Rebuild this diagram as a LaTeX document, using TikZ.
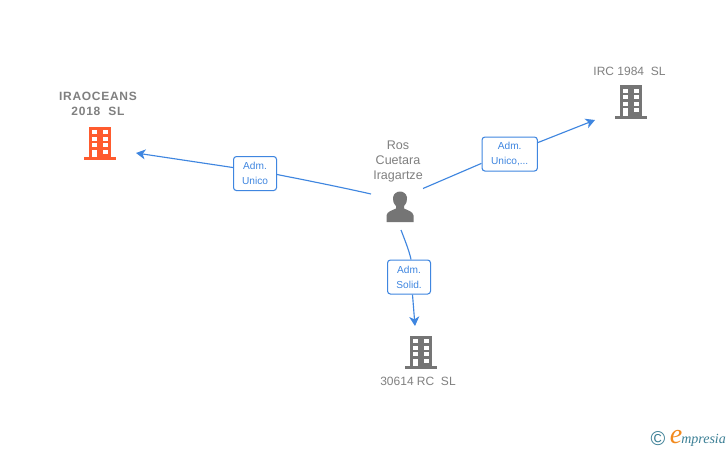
\documentclass[tikz,border=0pt]{standalone}
\usepackage{fontspec}
\setmainfont{Liberation Sans}
\newfontfamily\logofont{Liberation Serif}
\newfontfamily\boldspaced[LetterSpace=6]{Liberation Sans}
\usetikzlibrary{arrows.meta}
\definecolor{linkblue}{HTML}{3F86E0}
\definecolor{icongray}{HTML}{757575}
\definecolor{textgray}{HTML}{808080}
\definecolor{orangeicon}{HTML}{FF5B2E}
\definecolor{logoteal}{HTML}{3B7F95}
\definecolor{logoorange}{HTML}{F28A1E}
\tikzset{
  x=0.75pt,y=-0.75pt,
  entity/.style={text=textgray,font=\fontsize{9}{11.25}\selectfont,align=center,inner sep=0pt},
  boldentity/.style={entity,font=\fontsize{9}{11.25}\boldspaced\bfseries},
  rolebox/.style={draw=linkblue,line width=0.8pt,rounded corners=2.2pt,fill=white,
    text=linkblue,font=\fontsize{7.6}{11.25}\selectfont,align=center,inner sep=0pt,anchor=north west},
  link/.style={draw=linkblue,line width=0.85pt},
  arrowlink/.style={link,-{Stealth[length=7pt,width=7.5pt,inset=2pt]}},
  building/.pic={
    \fill[pic actions] (-11.2,-17) rectangle (11.2,13.5);
    \fill[pic actions] (-15.7,13.5) rectangle (15.7,16.5);
    \fill[white] (-7.6,-13.3) rectangle (-2.6,-9.4);
    \fill[white] (2.6,-13.3) rectangle (7.6,-9.4);
    \fill[white] (-7.6,-6.8) rectangle (-2.6,-2.8);
    \fill[white] (2.6,-6.8) rectangle (7.6,-2.8);
    \fill[white] (-7.6,-0.1) rectangle (-2.6,3.8);
    \fill[white] (2.6,-0.1) rectangle (7.6,3.8);
    \fill[white] (-7.6,6.2) rectangle (-2.6,13.5);
    \fill[white] (2.6,6.2) rectangle (7.6,10.3);
  },
}
\begin{document}
\begin{tikzpicture}
\useasboundingbox (0,0) rectangle (728,450);
\fill[white] (0,0) rectangle (728,450);

% buildings
\path (100,143.5) pic[fill=orangeicon] {building};
\path (631,102) pic[fill=icongray] {building};
\path (421,352.5) pic[fill=icongray] {building};

% person
\fill[icongray] (386.5,222) -- (386.5,215.5) .. controls (387,211.5) and (392,210.5) .. (396,208.5)
  -- (396,206) .. controls (393.5,203.5) and (392.5,200) .. (393,197.5)
  .. controls (393.5,193.5) and (397,191.5) .. (400,191.5)
  .. controls (403,191.5) and (406.5,193.5) .. (407,197.5)
  .. controls (407.5,200) and (406.5,203.5) .. (404,206)
  -- (404,208.5) .. controls (408,210.5) and (413,211.5) .. (413.5,215.5) -- (413.5,222) -- cycle;

% texts
\node[boldentity] (t1) at (98,104) {IRAOCEANS\\2018\ \ SL};
\node[entity] (t2) at (629.5,71) {IRC 1984\ \ SL};
\node[entity,font=\fontsize{9.4}{11.25}\selectfont] (t3) at (398,161.5) {Ros\\Cuetara\\Iragartze};
\node[entity] (t4) at (418,381) {30614 RC\ \ SL};

% anchors for connector ends
\coordinate (pl) at (371,194);
\coordinate (pr) at (423,188.5);
\coordinate (pb) at (401,230);
\coordinate (bl) at (136,153);
\coordinate (br) at (595,120);
\coordinate (bb) at (415,326);

% role boxes
\node[rolebox,minimum width=32.25pt,minimum height=25.5pt] (r1) at (233,156) {Adm.\\Unico};
\node[rolebox,minimum width=41.5pt,minimum height=25.5pt] (r2) at (481.5,136.5) {Adm.\\Unico,...};
\node[rolebox,minimum width=32.25pt,minimum height=25.5pt] (r3) at (387,259.5) {Adm.\\Solid.};

% connectors
\draw[link] (pl) .. controls (340,187) and (305,180) .. ([yshift=-0.75pt]r1.east);
\draw[arrowlink] ([yshift=4.5pt]r1.west) -- (bl);
\draw[link] (pr) -- ([yshift=-7pt]r2.west);
\draw[arrowlink] ([yshift=8.6pt]r2.east) -- (br);
\draw[link] (pb) .. controls (404,238) and (409,250) .. ([xshift=1.5pt]r3.north);
\draw[arrowlink] ([xshift=2.6pt]r3.south) -- (bb);

% logo
\node[text=logoteal,inner sep=0pt,font=\fontsize{15}{15}\selectfont] (c) at (658,438.5) {©};
\node[text=logoorange,inner sep=0pt,font=\fontsize{21}{21}\logofont\itshape] (e) at (676,437) {e};
\node[text=logoteal,inner sep=0pt,anchor=base west,font=\fontsize{10.5}{10.5}\logofont\itshape] (m) at (681,443) {mpresia};
\end{tikzpicture}
\end{document}
